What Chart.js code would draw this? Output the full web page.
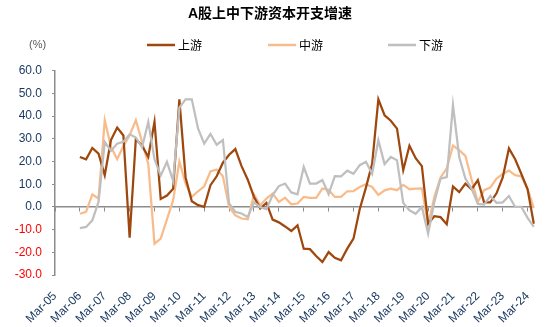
<!DOCTYPE html>
<html>
<head>
<meta charset="utf-8">
<script src="https://cdn.jsdelivr.net/npm/chart.js@4.4.0/dist/chart.umd.min.js"></script>
<style>
  html, body { margin: 0; padding: 0; background: #fff; }
</style>
</head>
<body>
<canvas id="growthChart" width="550" height="327"></canvas>
<script>
// quarterly categories, Mar-05 .. Jun-24
const quarters = [];
for (let y = 5; y <= 24; y++) {
  ['Mar', 'Jun', 'Sep', 'Dec'].forEach(m => quarters.push(m + '-' + String(y).padStart(2, '0')));
}
const labels = quarters.slice(0, 78);

const seriesNames = ['上游', '中游', '下游'];

const upstream = [
  null, null, null, null,
  22, 21, 26, 23.5,
  14, 29.5, 35, 31.5,
  -13.5, 30, 27, 22,
  37.5, 3.5, 5, 8,
  47.4, 13, 2.5, 0.8,
  0, 9.6, 13.5, 19.5,
  23, 25.5, 18, 12,
  4.4, -0.7, 1.8, -5.6,
  -6.8, -8.6, -10.6, -8.1,
  -18.4, -18.6, -21.6, -24.3,
  -19.9, -22.4, -23.5, -18.4,
  -14, -1, 8.5, 19,
  47.4, 40.4, 38, 34.5,
  16.2, 27, 21.5, 18,
  -7.4, -4.1, -4.5, -7.6,
  9, 6.5, 10.3, 7.8,
  11.8, 2, 2, 6,
  13, 25.8, 21, 14.5,
  7.8, -7.4
];

const midstream = [
  null, null, null, null,
  -3, -2.2, 5.5, 3.7,
  38.2, 26.5, 21, 26.8,
  31.6, 38.2, 28.7, 19,
  -16.2, -14, -5.5, 3,
  20, 10.3, 4.4, 6.9,
  9.1, 15.7, 16.5, 13.5,
  0, -3.7, -5.1, -5.4,
  5.5, 0.7, 3.7, 5.9,
  2.2, 4.1, 1.2, 1.5,
  4.4, 4, 4, 8.1,
  7.6, 4.4, 4.4, 6.9,
  7, 8.8, 10, 8.8,
  5.3, 7.3, 8.1, 7.4,
  9.7, 7.8, 8.1, 8.2,
  -8, 4.4, 13, 17,
  27, 25, 22.5, 12,
  2.2, 7.4, 8.5, 12.5,
  14.5, 16, 14, 13.5,
  8, -0.5
];

const downstream = [
  null, null, null, null,
  -9.3, -8.8, -5.9, 2.2,
  28.7, 24.7, 27.9, 28.7,
  32, 30.6, 26.2, 37.5,
  21, 13.8, 19.9, 11.5,
  43.8, 47.4, 47.4, 34.6,
  27.9, 32.2, 27.4, 29.5,
  1.5, -2.2, -2.9, -4.4,
  2, -0.1, -1, 5.2,
  9.2, 10.3, 6.4, 5.6,
  17.6, 10.3, 10.3, 11.8,
  5.6, 13.6, 13.5, 16,
  14.6, 18.4, 19.9, 14.6,
  29.4, 18.9, 22, 20.6,
  1.8, -1.5, -3, 0,
  -11.8, 2.2, 12.5, 13.2,
  44.9, 22, 12.5, 8.1,
  1.3, 1, 4.8, 1.8,
  2, 4.8, 0, 0,
  -4.8, -8.8
];

const colors = ['#9E480E', '#F8BC8C', '#BFBFBF'];
const axisGray = '#8C8C8C';
const font = "'Liberation Sans', Arial, 'Noto Sans CJK SC', sans-serif";

// legend drawn as short lines + text, plus the "(%)" unit note
const lineLegend = {
  id: 'lineLegend',
  afterDraw(chart, args, opts) {
    const ctx = chart.ctx;
    ctx.save();
    ctx.textBaseline = 'middle';
    ctx.fillStyle = '#595959';
    ctx.font = "11px " + font;
    ctx.fillText('(%)', opts.unitX, opts.y);
    chart.data.datasets.forEach((ds, i) => {
      const x = opts.xs[i];
      ctx.strokeStyle = ds.borderColor;
      ctx.lineWidth = 2.5;
      ctx.beginPath();
      ctx.moveTo(x, opts.y);
      ctx.lineTo(x + 28, opts.y);
      ctx.stroke();
      ctx.fillStyle = '#000';
      ctx.font = "12px 'Noto Sans CJK SC', sans-serif";
      ctx.fillText(ds.label, x + 31, opts.y);
    });
    ctx.restore();
  }
};

const makeSet = (i, data, order) => ({
  label: seriesNames[i],
  data: data,
  borderColor: colors[i],
  backgroundColor: colors[i],
  borderWidth: 2.25,
  pointRadius: 0,
  tension: 0,
  fill: false,
  order: order
});

new Chart(document.getElementById('growthChart').getContext('2d'), {
  type: 'line',
  data: {
    labels: labels,
    datasets: [
      makeSet(0, upstream, 1),
      makeSet(1, midstream, 2),
      makeSet(2, downstream, 0)
    ]
  },
  plugins: [lineLegend],
  options: {
    responsive: false,
    animation: false,
    devicePixelRatio: 1,
    layout: { padding: { left: 0, right: 10, top: 0, bottom: 0 } },
    plugins: {
      legend: { display: false },
      tooltip: { enabled: false },
      title: {
        display: true,
        text: 'A股上中下游资本开支增速',
        color: '#000',
        font: { size: 14, weight: 'bold', family: font },
        padding: { top: 6, bottom: 48 }
      },
      lineLegend: { xs: [147, 268, 388], y: 45, unitX: 29 }
    },
    scales: {
      x: {
        type: 'category',
        position: 'bottom',
        offset: false,
        grid: { display: false },
        border: { display: false },
        ticks: {
          autoSkip: false,
          maxRotation: 45,
          minRotation: 45,
          padding: 6,
          color: '#17375E',
          font: { size: 12, family: font },
          callback: function(v, i) { return i % 4 === 0 ? labels[i] : ''; }
        },
        afterFit: s => { s.height = 52; }
      },
      x2: {
        type: 'category',
        position: { y: 0 },
        offset: false,
        ticks: { display: false, autoSkip: false },
        grid: {
          drawOnChartArea: false,
          tickLength: 4,
          color: ctx => ctx.index % 4 === 0 ? axisGray : 'rgba(0,0,0,0)'
        },
        border: { color: axisGray, width: 1.5 }
      },
      y: {
        min: -30,
        max: 60,
        ticks: {
          stepSize: 10,
          padding: 10,
          color: ctx => ctx.tick.value < 0 ? '#FF0000' : '#17375E',
          font: { size: 12, family: font },
          callback: v => v.toFixed(1)
        },
        grid: { drawOnChartArea: false, tickLength: 3, color: axisGray },
        border: { color: axisGray, width: 1.5 },
        afterFit: s => { s.width = 55; }
      }
    }
  }
});
</script>
</body>
</html>
